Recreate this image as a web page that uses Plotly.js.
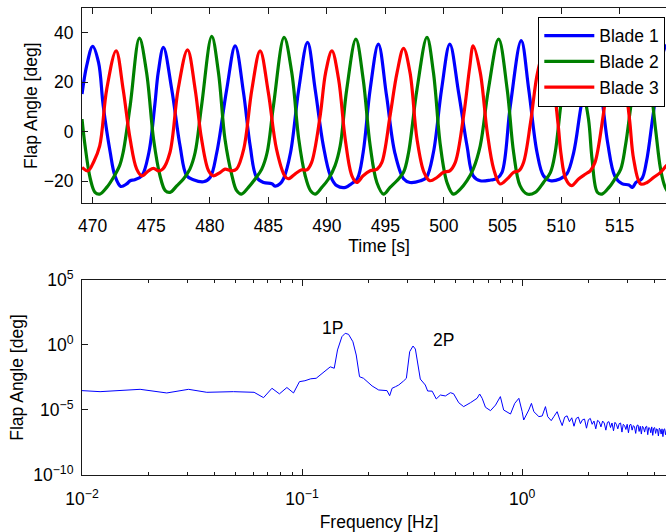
<!DOCTYPE html>
<html><head><meta charset="utf-8">
<script src="https://cdn.plot.ly/plotly-3.0.1.min.js"></script>
<style>html,body{margin:0;padding:0;overflow:hidden;background:#fff}#chart{width:700px;height:532px}</style>
</head><body><div id="chart"></div>
<script>
// ---- Top panel: flap angle time series ----
const blade1T = [469.09,469.49,470.0,470.5,470.9,471.5,471.9,472.4,472.9,473.2,473.6,474.2,474.8,475.3,475.6,476.04,476.75,477.46,478.03,478.6,479.46,480.03,480.6,481.45,482.17,482.88,483.45,484.0,484.6,485.3,485.6,486.0,486.3,486.9,487.6,488.35,489.0,489.7,490.3,490.85,491.6,492.1,492.6,493.1,493.7,494.4,495.1,495.8,496.55,497.1,498.0,498.5,499.1,499.8,500.5,501.25,501.97,502.5,503.1,504.0,504.5,504.96,505.67,506.6,507.24,507.95,508.5,509.1,509.9,510.5,511.08,511.7,512.7,513.4,514.0,514.6,515.2,515.8,516.1,516.4,516.9,517.3,517.9,518.8,519.82];
const blade1Y = [15.2,26.7,34.5,28.0,10.5,-8.4,-17.8,-22.1,-21.1,-19.8,-19.4,-17.8,-8.4,10.5,24.0,34.1,17.2,-5.7,-17.8,-19.4,-20.2,-18.5,-8.4,17.2,34.7,15.9,-5.7,-18.5,-20.5,-21.0,-22.0,-21.0,-19.0,-8.4,17.2,36.1,17.2,-5.7,-17.8,-21.8,-22.5,-21.0,-19.0,-8.4,17.2,35.4,14.5,-8.4,-19.0,-20.5,-19.8,-18.5,-8.4,17.2,35.4,15.9,-5.7,-17.8,-19.8,-19.5,-19.0,-16.4,10.5,36.8,17.2,-8.4,-17.8,-19.8,-19.1,-17.0,-8.4,10.0,35.5,17.0,-5.0,-18.0,-21.0,-21.5,-22.5,-20.5,-19.0,-12.0,8.0,35.0,18.0];

const blade2T = [469.09,469.35,469.8,470.2,470.6,471.2,471.77,472.3,472.6,473.2,473.99,474.6,475.2,475.75,476.2,476.6,477.2,477.75,478.3,478.75,479.3,480.17,480.74,481.3,481.9,482.3,482.7,483.3,483.87,484.44,484.9,485.44,486.35,487.0,487.6,488.15,488.6,489.0,489.57,490.14,490.7,491.14,491.7,492.48,493.1,493.7,494.27,494.84,495.4,495.98,496.55,496.98,497.7,498.55,499.1,499.7,500.26,500.8,501.4,501.97,502.5,503.1,503.8,504.67,505.4,505.95,506.5,507.1,507.8,508.5,509.1,509.5,510.1,511.0,511.6,512.35,512.65,513.1,513.5,514.1,514.6,515.1,515.5,516.1,516.9,517.5,518.1,518.5,518.9,519.3,519.82];
const blade2Y = [5.1,-5.7,-19.1,-24.5,-25.2,-22.5,-18.5,-13.7,-8.4,10.5,37.8,24.0,-3.0,-17.8,-23.8,-24.5,-21.8,-19.1,-15.1,-8.4,10.5,38.5,24.0,-3.0,-17.8,-23.8,-25.2,-22.5,-19.1,-15.1,-8.4,10.5,38.1,24.0,-3.0,-17.8,-23.8,-25.2,-22.5,-19.1,-13.7,-5.7,17.2,37.4,21.3,-5.7,-20.5,-25.2,-22.5,-19.8,-16.4,-8.4,17.2,38.1,24.0,-5.7,-20.5,-25.2,-23.2,-19.8,-15.1,-5.7,17.2,37.4,17.2,-8.4,-21.8,-25.2,-24.5,-20.5,-16.4,-8.4,15.0,38.0,24.0,5.0,-11.0,-24.5,-25.2,-22.5,-19.1,-15.1,-5.7,15.0,38.0,24.0,0.0,-15.0,-22.5,-25.0,-24.0];

const blade3T = [469.09,469.6,470.1,470.6,471.2,472.0,472.6,473.2,473.76,474.2,474.76,475.2,475.6,476.0,476.6,477.3,478.1,478.75,479.3,479.9,480.3,480.9,481.3,481.9,482.3,482.9,483.6,484.3,485.0,485.7,486.4,486.7,487.3,487.86,488.3,488.7,489.43,489.9,490.43,491.0,491.57,492.14,492.56,493.1,493.7,494.3,494.7,495.4,496.0,496.55,497.1,497.7,498.3,498.8,499.4,499.97,500.5,500.97,501.68,502.2,502.5,503.1,503.7,504.25,504.8,505.4,505.95,506.4,506.8,507.4,508.0,508.6,509.2,509.75,510.0,510.4,510.9,511.5,512.1,512.5,512.9,513.6,514.1,514.7,515.3,515.85,516.2,516.8,517.35,517.9,518.5,519.0,519.82];
const blade3Y = [-14.4,-15.8,-12.0,-5.7,17.2,32.7,17.2,-3.0,-15.1,-17.8,-15.8,-14.8,-15.8,-15.0,-8.4,17.2,33.1,17.2,-3.0,-15.8,-17.8,-16.4,-15.1,-15.8,-15.0,-7.0,17.2,32.7,15.9,-7.0,-17.8,-19.0,-17.0,-15.4,-15.4,-12.4,6.5,24.0,32.7,21.3,-3.0,-17.8,-20.5,-17.8,-15.8,-15.1,-12.4,6.5,24.0,33.7,24.0,-3.0,-16.4,-19.8,-18.5,-16.4,-15.8,-12.4,6.5,26.0,34.7,24.0,-0.3,-15.1,-21.1,-19.1,-16.4,-15.8,-12.4,3.8,24.0,33.0,24.0,3.0,-9.0,-19.0,-21.8,-19.1,-17.1,-15.8,-12.4,6.5,24.0,33.0,24.0,5.0,-11.0,-21.1,-20.5,-18.5,-16.4,-13.7,-10.0];

const legendNames = ['Blade 1','Blade 2','Blade 3'];
const timeTicks = [470,475,480,485,490,495,500,505,510,515];
const angleTicks = [-20,0,20,40];

// ---- Bottom panel: spectrum (frequency in Hz, amplitude read in decades) ----
const freqHz = [0.0100,0.01208,0.01837,0.02427,0.03048,0.03690,0.04875,0.06053,0.06683,0.07295,0.07889,0.08531,0.09141,0.0973,0.1030,0.1095,0.1159,0.1253,0.1343,0.1400,0.1449,0.1517,0.1570,0.1626,0.1702,0.1762,0.1824,0.1901,0.2080,0.2228,0.2432,0.2500,0.2564,0.2655,0.2748,0.2891,0.2977,0.3083,0.3192,0.3271,0.3388,0.3445,0.363,0.372,0.390,0.407,0.425,0.448,0.472,0.488,0.515,0.542,0.582,0.624,0.641,0.658,0.681,0.718,0.757,0.796,0.824,0.885,0.925,0.966,1.000,1.016,1.072,1.102,1.130,1.191,1.233,1.276,1.306,1.355,1.393,1.442,
  1.48,1.52,1.56,1.60,1.64,1.68,1.72,1.76,1.80,1.84,1.88,1.92,1.96,2.00,2.04,2.08,2.12,2.16,2.20,2.24,2.28,2.32,2.36,2.40,2.44,2.48,2.52,2.56,2.60,2.64,2.68,2.72,2.76,2.80,2.84,2.88,2.92,2.96,3.00,3.04,3.08,3.12,3.16,3.20,3.24,3.28,3.32,3.36,3.40,3.44,3.48,3.52,3.56,3.60,3.64,3.68,3.72,3.76,3.80,3.84,3.88,3.92,3.96,4.00,4.04,4.08,4.12,4.16,4.20,4.24,4.28,4.32,4.36,4.40,4.44,4.48,4.52,4.56,4.60,4.64,4.68,4.72,4.76,4.80,4.84,4.88,4.92,4.96,5.00];
const psdDecades = [-3.51,-3.59,-3.41,-3.69,-3.41,-3.64,-3.59,-3.64,-4.05,-3.33,-3.76,-3.27,-3.69,-2.82,-2.75,-2.60,-2.56,-2.10,-1.68,-1.79,-0.38,0.64,0.90,0.82,0.25,-0.77,-2.44,-2.56,-3.15,-3.46,-3.51,-3.90,-3.33,-3.21,-3.08,-2.77,-2.56,-0.51,-0.08,-0.31,-2.05,-2.62,-3.08,-3.54,-3.55,-4.15,-3.85,-3.92,-3.67,-3.75,-4.44,-4.74,-4.44,-4.10,-3.77,-4.10,-4.79,-5.05,-4.62,-3.97,-5.00,-5.31,-4.49,-4.10,-5.13,-5.77,-5.00,-4.49,-5.13,-5.51,-5.46,-4.74,-5.51,-5.82,-5.51,-5.13,
  -5.70,-6.20,-5.55,-5.45,-5.90,-5.60,-6.25,-5.65,-5.55,-6.05,-5.75,-5.70,-6.40,-5.75,-5.65,-6.10,-5.85,-6.45,-5.80,-5.90,-6.30,-5.85,-6.00,-6.55,-5.95,-5.90,-6.35,-6.00,-6.60,-5.95,-6.10,-6.45,-6.05,-6.00,-6.70,-6.10,-6.20,-6.50,-6.10,-6.75,-6.15,-6.10,-6.55,-6.20,-6.30,-6.80,-6.20,-6.15,-6.65,-6.25,-6.85,-6.25,-6.35,-6.70,-6.30,-6.25,-6.90,-6.35,-6.40,-6.75,-6.30,-6.95,-6.40,-6.35,-6.80,-6.45,-6.50,-7.00,-6.40,-6.50,-6.85,-6.45,-7.05,-6.50,-6.45,-6.90,-6.55,-6.60,-7.05,-6.50,-6.60,-6.95,-6.55,-7.10,-6.60,-6.55,-7.00,-6.60,-6.70];
const psdAmp = psdDecades.map(d => Math.pow(10, d));
const freqTicks = [0.01,0.1,1];
const freqTickText = ['10<sup>\u22122</sup>','10<sup>\u22121</sup>','10<sup>0</sup>'];
const freqMinor = [0.02,0.03,0.04,0.05,0.06,0.07,0.08,0.09,0.2,0.3,0.4,0.5,0.6,0.7,0.8,0.9,2,3,4,5];
const ampTicks = [1e-10,1e-5,1,1e5];
const ampTickText = ['10<sup>\u221210</sup>','10<sup>\u22125</sup>','10<sup>0</sup>','10<sup>5</sup>'];
// annotation anchor points (Hz, amplitude)
const peakLabels = [{text:'1P', f:0.1368, a:20.4}, {text:'2P', f:0.439, a:2.43}];

const FONT = 'Liberation Sans, Arial, Helvetica, sans-serif';
const FS = 17.5;
const colors = ['#0000ff','#008000','#ff0000'];
const tsT = [blade1T, blade2T, blade3T];
const tsY = [blade1Y, blade2Y, blade3Y];

const traces = [];
for (let i = 0; i < 3; i++) {
  traces.push({x: tsT[i], y: tsY[i], type:'scatter', mode:'lines', name: legendNames[i],
    line:{color: colors[i], width: 3.2, shape:'spline', smoothing: 1.0},
    xaxis:'x', yaxis:'y', showlegend:true});
}
traces.push({x: freqHz, y: psdAmp, type:'scatter', mode:'lines', showlegend:false,
  line:{color:'#0000ff', width:1}, xaxis:'x2', yaxis:'y2'});

const axCommon = {showline:true, linecolor:'#1a1a1a', linewidth:1, mirror:'ticks', ticks:'inside',
  tickcolor:'#1a1a1a', ticklen:6, tickwidth:1, showgrid:false, zeroline:false,
  tickfont:{family:FONT, size:FS, color:'#000'}};

const layout = {
  width:700, height:532,
  margin:{l:82, r:24.4, t:8, b:57},
  paper_bgcolor:'#fff', plot_bgcolor:'#fff',
  font:{family:FONT, size:FS, color:'#000'},
  xaxis: Object.assign({}, axCommon, {domain:[0,1], anchor:'y', range:[469.088, 519.82],
    tickmode:'array', tickvals: timeTicks, ticklabelstandoff: 7,
    title:{text:'Time [s]', font:{family:FONT, size:FS}, standoff:3}}),
  yaxis: Object.assign({}, axCommon, {domain:[0.5814,1], anchor:'x', range:[-29,50],
    tickmode:'array', tickvals: angleTicks, ticktext: angleTicks.map(v => v < 0 ? '\u2212' + Math.abs(v) : String(v)),
    ticklabelstandoff: 4,
    title:{text:'Flap Angle [deg]', font:{family:FONT, size:FS}, standoff:1}}),
  xaxis2: Object.assign({}, axCommon, {domain:[0,1], anchor:'y2', type:'log', range:[-2, Math.log10(5)],
    tickmode:'array', tickvals: freqTicks, ticktext: freqTickText, ticklabelstandoff: 8,
    minor:{ticks:'inside', ticklen:3, tickcolor:'#1a1a1a', tickvals: freqMinor},
    title:{text:'Frequency [Hz]', font:{family:FONT, size:FS}, standoff:7}}),
  yaxis2: Object.assign({}, axCommon, {domain:[0,0.4176], anchor:'x2', type:'log', range:[-10,5],
    tickmode:'array', tickvals: ampTicks, ticktext: ampTickText, ticklabelstandoff: 4,
    title:{text:'Flap Angle [deg]', font:{family:FONT, size:FS}, standoff:5}}),
  legend:{x:0.982, y:0.9814, xanchor:'right', yanchor:'top', bgcolor:'#fff', bordercolor:'#000', borderwidth:1,
    font:{family:FONT, size:FS, color:'#000'}, tracegroupgap:0, itemwidth:50},
  annotations: peakLabels.map(p => ({x: Math.log10(p.f), y: Math.log10(p.a), xref:'x2', yref:'y2', text:p.text,
    showarrow:false, font:{family:FONT, size:FS, color:'#000'}}))
};

Plotly.newPlot('chart', traces, layout, {displayModeBar:false, staticPlot:true});
</script>
</body></html>
